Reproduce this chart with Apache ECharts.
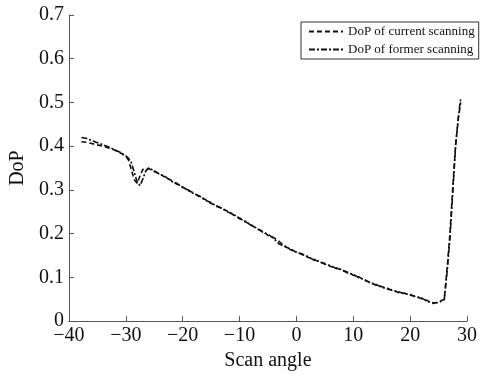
<!DOCTYPE html>
<html>
<head>
<meta charset="utf-8">
<script src="https://cdn.jsdelivr.net/npm/echarts@6/dist/echarts.min.js"></script>
<style>html,body{margin:0;padding:0;background:#fff}#c{width:483px;height:376px}</style>
</head>
<body>
<div id="c"></div>
<script>
const angles = [-37.8,-37,-36,-35,-34,-33,-32,-31,-30,-29.5,-29,-28.5,-28,-27.5,-27,-26.5,
  -26,-25,-24,-23,-22,-21,-20,-19,-18,-17,-16,-15,-14,-13,-12,-11,-10,-9,-8,-7,-6,-5,-4,-3,-2,-1,
  0,1,2,3,4,5,6,7,8,9,10,11,12,13,14,15,16,17,18,19,20,21,22,23,24,25,26,
  26.5,27,27.5,28,28.5,28.9];
const currentDoP = [0.410,0.409,0.406,0.403,0.400,0.396,0.391,0.385,0.377,0.368,0.345,0.323,0.315,0.332,0.347,0.345,
  0.349,0.342,0.337,0.328,0.322,0.313,0.307,0.298,0.293,0.284,0.278,0.269,0.264,0.256,0.251,0.242,0.236,0.227,0.221,0.211,0.206,0.196,0.191,0.182,0.170,0.165,
  0.157,0.154,0.146,0.142,0.135,0.132,0.125,0.122,0.116,0.112,0.105,0.101,0.093,0.089,0.082,0.079,0.073,0.071,0.065,0.064,0.059,0.057,0.051,0.047,0.040,0.044,0.050,
  0.120,0.200,0.305,0.405,0.465,0.500];
const formerDoP = [0.420,0.418,0.413,0.408,0.403,0.398,0.392,0.386,0.378,0.372,0.362,0.340,0.318,0.310,0.325,0.343,
  0.350,0.344,0.335,0.330,0.320,0.315,0.305,0.300,0.291,0.286,0.276,0.271,0.262,0.258,0.249,0.244,0.234,0.229,0.219,0.213,0.204,0.199,0.189,0.176,0.172,0.163,
  0.158,0.152,0.148,0.140,0.137,0.130,0.127,0.120,0.118,0.110,0.107,0.099,0.095,0.087,0.084,0.077,0.075,0.069,0.067,0.062,0.061,0.055,0.053,0.045,0.042,0.042,0.049,
  0.112,0.190,0.295,0.400,0.470,0.510];
const seriesNames = ['DoP of current scanning','DoP of former scanning'];
const xTitle = 'Scan angle';
const yTitle = 'DoP';

const font = '"Liberation Serif", "DejaVu Serif", serif';
const chart = echarts.init(document.getElementById('c'), null, {renderer:'canvas'});
const pair = (arr) => angles.map((a,i)=>[a, arr[i]]);
chart.setOption({
  animation:false,
  backgroundColor:'#fff',
  textStyle:{fontFamily:font},
  grid:{left:66,right:16,top:15,bottom:44},
  legend:{
    orient:'vertical', left:301, top:22,
    padding:[3,4,3,7], itemGap:5, itemWidth:34, itemHeight:14,
    backgroundColor:'#fff', borderColor:'#333', borderWidth:1,
    itemStyle:{opacity:0},
    textStyle:{fontFamily:font, fontSize:13, color:'#111'},
    data:seriesNames
  },
  xAxis:{
    type:'value', min:-40, max:30, interval:10,
    name:xTitle, nameLocation:'middle', nameGap:25,
    nameTextStyle:{fontFamily:font, fontSize:20, color:'#111'},
    axisLine:{onZero:false,lineStyle:{color:'#555',width:1}},
    axisTick:{inside:true,length:5,lineStyle:{color:'#555'}},
    axisLabel:{fontFamily:font, fontSize:20, color:'#111', margin:5,
      formatter:(v)=> String(v).replace('-','\u2212')},
    splitLine:{show:false}
  },
  yAxis:{
    type:'value', min:0, max:0.7, interval:0.1,
    name:yTitle, nameLocation:'middle', nameGap:40, nameRotate:90,
    nameTextStyle:{fontFamily:font, fontSize:20, color:'#111'},
    axisLine:{show:true,onZero:false,lineStyle:{color:'#555',width:1}},
    axisTick:{show:true,inside:true,length:5,lineStyle:{color:'#555'}},
    axisLabel:{fontFamily:font, fontSize:20, color:'#111', margin:5,
      formatter:(v)=> v===0 ? '0' : v.toFixed(1)},
    splitLine:{show:false}
  },
  series:[
    {name:seriesNames[0], type:'line', data:pair(currentDoP), symbol:'none', smooth:false,
     lineStyle:{color:'#111', width:1.6, type:[5,3]}, itemStyle:{color:'#111'}},
    {name:seriesNames[1], type:'line', data:pair(formerDoP), symbol:'none', smooth:false,
     lineStyle:{color:'#111', width:1.6, type:[6,2,2,2]}, itemStyle:{color:'#111'}}
  ]
});
</script>
</body>
</html>
